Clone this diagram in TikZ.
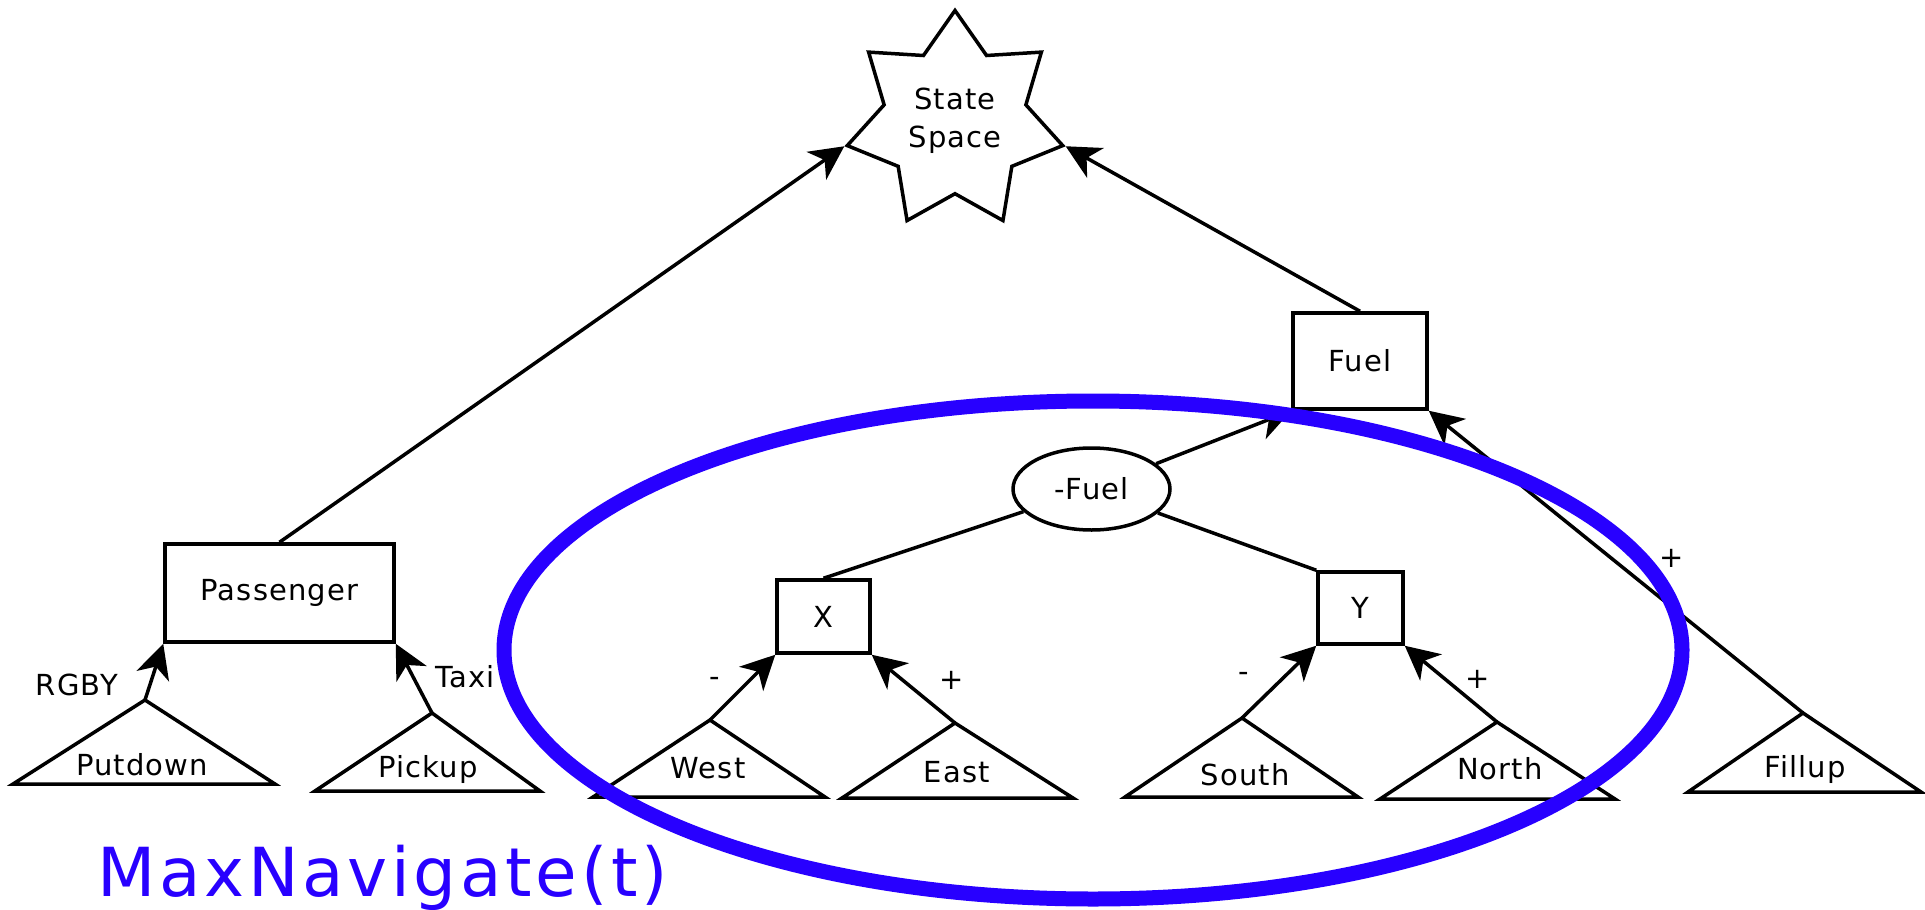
\documentclass[tikz,border=0pt]{standalone}
\usepackage{fontspec}
\setmainfont{DejaVu Sans}[LetterSpace=4]
\usetikzlibrary{arrows.meta,shapes.geometric}
\definecolor{navblue}{RGB}{40,0,255}
\begin{document}
\begin{tikzpicture}[x=1pt,y=-1pt,
  txt/.style={font=\fontsize{29}{38}\selectfont, inner sep=0pt},
  blk/.style={draw=black, line width=3.5pt},
  boxnode/.style={blk, txt, rectangle},
  tri/.style={blk, line join=miter},
  link/.style={line width=3.5pt},
  arr/.style={link, -{Stealth[length=34pt,width=34pt,inset=10pt]}},
]
\useasboundingbox (0,0) rectangle (1925,910);

% nodes
\node[blk, txt, star, star points=7, star point ratio=1.52, minimum size=221pt, align=center] (ss) at (955,121) {State\\Space};
\node[boxnode, minimum width=229pt, minimum height=98pt] (pass) at (279.5,593) {Passenger};
\node[boxnode, minimum width=134pt, minimum height=96pt] (fuel) at (1360,361) {Fuel};
\node[blk, txt, ellipse, minimum width=157pt, minimum height=82pt] (nfuel) at (1091.5,489) {-Fuel};
\node[boxnode, minimum width=93pt, minimum height=73pt] (X) at (823.5,616.5) {X};
\node[boxnode, minimum width=85pt, minimum height=72pt] (Y) at (1360.5,608) {Y};

% triangles
\draw[tri] (145,700) coordinate (pdA) -- (275,784) -- (13,784) -- cycle;
\node[txt, anchor=base] (pdT) at (142,775) {Putdown};
\draw[tri] (432,713) coordinate (puA) -- (540,791) -- (315,791) -- cycle;
\node[txt, anchor=base] (puT) at (428,777) {Pickup};
\draw[tri] (710,720) coordinate (weA) -- (825,797) -- (593,797) -- cycle;
\node[txt, anchor=base] (weT) at (708,778) {West};
\draw[tri] (955,723) coordinate (eaA) -- (1073,798) -- (842,798) -- cycle;
\node[txt, anchor=base] (eaT) at (957,782) {East};
\draw[tri] (1242,718) coordinate (soA) -- (1358,797) -- (1125,797) -- cycle;
\node[txt, anchor=base] (soT) at (1245,785) {South};
\draw[tri] (1497,722) coordinate (noA) -- (1615,799) -- (1380,799) -- cycle;
\node[txt, anchor=base] (noT) at (1500,779) {North};
\draw[tri] (1803,713) coordinate (fiA) -- (1921,792) -- (1688,792) -- cycle;
\node[txt, anchor=base] (fiT) at (1805,777) {Fillup};

% connectors
\draw[arr] (pass.north) -- (ss.outer point 3);
\draw[arr] (fuel.north) -- (ss.outer point 6);
\draw[arr] (nfuel) -- (fuel.south west);
\draw[link] (nfuel) -- (X.north);
\draw[link] (nfuel) -- (Y.north west);
\draw[arr] (pdA) -- (pass.south west);
\draw[arr] (puA) -- (pass.south east);
\draw[arr] (weA) -- (X.south west);
\draw[arr] (eaA) -- (X.south east);
\draw[arr] (soA) -- (Y.south west);
\draw[arr] (noA) -- (Y.south east);
\draw[arr] (fiA) -- (fuel.south east);

% labels
\node[txt, anchor=base] (rgby) at (77,695) {RGBY};
\node[txt, anchor=base] (taxi) at (465,687) {Taxi};
\node[txt] (m1) at (715,682) {-};
\node[txt] (p1) at (952,680) {+};
\node[txt] (m2) at (1244,677) {-};
\node[txt] (p2) at (1478,679) {+};
\node[txt] (p3) at (1672,558) {+};

% highlighted group
\node[draw=navblue, line width=15pt, ellipse, minimum width=1178pt, minimum height=498pt, inner sep=0pt] (grp) at (1093,650) {};
\node[font=\fontsize{67.6}{80}\selectfont\addfontfeatures{LetterSpace=5.5}, text=navblue, inner sep=0pt, anchor=base] (mn) at (382.5,896) {MaxNavigate(t)};
\end{tikzpicture}
\end{document}
